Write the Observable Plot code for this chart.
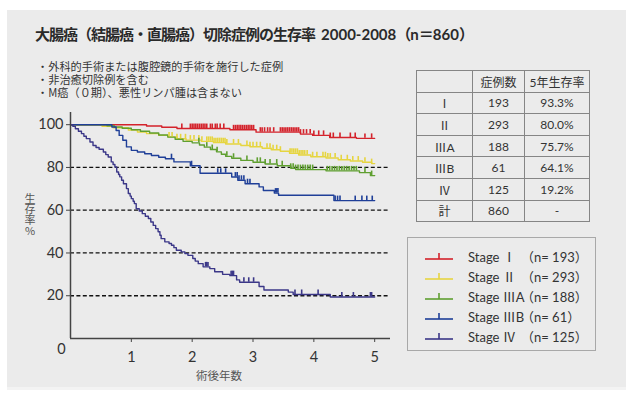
<!DOCTYPE html>
<html><head><meta charset="utf-8">
<script src="https://cdn.jsdelivr.net/npm/d3@7"></script>
<script src="https://cdn.jsdelivr.net/npm/@observablehq/plot@0.6"></script>
<style>
html,body{margin:0;padding:0;background:#fff;}
#root{position:relative;width:626px;height:399px;overflow:hidden;font-family:"Lato","Noto Sans CJK JP",sans-serif;color:#2a2a2a;}
#panel{position:absolute;left:7px;top:10px;width:619px;height:377px;background:#ebebeb;border-bottom:3px solid #f3f3f3;}
#title{position:absolute;left:35px;top:24px;font-size:15px;line-height:20px;font-weight:bold;white-space:nowrap;font-family:"Noto Sans CJK JP",sans-serif;letter-spacing:-1px;}
#title .lat{font-family:"Lato","Noto Sans CJK JP";font-weight:bold;font-size:15px;letter-spacing:0;}
#notes{position:absolute;left:37px;top:60px;font-size:11.2px;line-height:13px;font-family:"Noto Sans CJK JP",sans-serif;white-space:nowrap;color:#333;}
#tbl{position:absolute;left:416px;top:70px;border-collapse:collapse;font-size:12px;color:#333;}
#tbl td{border:1px solid #858585;height:20.6px;padding:0;text-align:center;font-family:"Lato","Noto Sans CJK JP",sans-serif;}
#legend{position:absolute;left:407px;top:237px;width:187px;height:112px;border:1px solid #a8a8a8;}
.lrow{position:absolute;left:0;height:16px;font-size:13px;color:#333;white-space:nowrap;}
.lrow svg{position:absolute;left:17px;top:2px;}
.lrow .s{position:absolute;left:60px;top:-1px;}
.lrow .n{position:absolute;left:113px;top:-1px;}
#ytitle{position:absolute;left:23px;top:193px;font-size:11px;line-height:14px;letter-spacing:-0.3px;writing-mode:vertical-rl;text-orientation:upright;color:#555;font-family:"Noto Sans CJK JP",sans-serif;}
#xtitle{position:absolute;left:196px;top:367px;font-size:11.5px;color:#555;font-family:"Noto Sans CJK JP",sans-serif;}
#chart{position:absolute;left:0;top:100px;}
</style></head>
<body>
<div id="root">
  <div id="panel"></div>
  <div id="title">大腸癌（結腸癌・直腸癌）切除症例の生存率 <span class="lat">&nbsp;2000-2008</span>（<span class="lat">n</span>＝<span class="lat">860</span>）</div>
  <div id="notes">・外科的手術または腹腔鏡的手術を施行した症例<br>・非治癒切除例を含む<br>・M癌（０期）、悪性リンパ腫は含まない</div>
  <table id="tbl"></table>
  <div id="legend"></div>
  <div id="ytitle">生存率%</div>
  <div id="xtitle">術後年数</div>
  <div id="chart"></div>
</div>
<script>
// ---- data ----
const stageNames = ["Stage Ⅰ", "Stage Ⅱ", "Stage ⅢA", "Stage ⅢB", "Stage Ⅳ"];
const stageN = ["193", "293", "188", "61", "125"];
const tableStages = ["Ⅰ", "Ⅱ", "ⅢA", "ⅢB", "Ⅳ", "計"];
const tableCases = ["193", "293", "188", "61", "125", "860"];
const tableRates = ["93.3%", "80.0%", "75.7%", "64.1%", "19.2%", "-"];
const tableHeader = ["", "症例数", "5年生存率"];
const xTicks = [1, 2, 3, 4, 5];
const yTicks = [20, 40, 60, 80, 100];
const gridLines = [20, 40, 60, 80];

const s1Time = [0, 1.25, 1.5, 1.75, 2.62, 3.05, 3.78, 3.98, 4.26, 4.7];
const s1Surv = [100, 99.4, 98.8, 98.2, 97.6, 96.5, 95.6, 95.0, 94.0, 93.6];
const s1Cens = [1.83, 1.97, 2.0, 2.03, 2.06, 2.09, 2.12, 2.15, 2.18, 2.21, 2.24, 2.3, 2.33, 2.38, 2.41, 2.46, 2.52,
  2.68, 2.71, 2.74, 2.77, 2.8, 2.83, 2.86, 2.89, 2.92, 2.95, 2.98, 3.01, 3.12, 3.15, 3.19, 3.24, 3.28, 3.34,
  3.45, 3.48, 3.51, 3.54, 3.57, 3.6, 3.63, 3.66, 3.69, 3.72, 3.75, 3.78, 3.83, 3.88, 3.94, 4.0, 4.08, 4.16,
  4.27, 4.32, 4.43, 4.6, 4.68, 4.84, 4.95];

const s2Time = [0, 0.52, 0.7, 0.95, 1.1, 1.25, 1.45, 1.6, 1.75, 1.9, 2.15, 2.35, 2.55, 2.8, 2.95, 3.15, 3.3, 3.45, 3.6, 3.75, 3.95, 4.2, 4.4, 4.6, 4.8, 4.95];
const s2Surv = [100, 99.2, 98.6, 97.5, 96.6, 95.8, 95.0, 94.3, 93.4, 92.8, 92.2, 91.6, 91.0, 90.3, 89.7, 89.0, 88.3, 87.6, 86.6, 85.8, 85.0, 84.4, 83.6, 83.0, 82.4, 81.8];
const s2Cens = [1.62, 1.67, 1.75, 1.81, 1.89, 1.97, 2.03, 2.11, 2.16, 2.24, 2.27, 2.3, 2.33, 2.36, 2.39, 2.42, 2.45, 2.48, 2.51, 2.54, 2.57,
  2.68, 2.76, 2.9, 2.95, 3.0, 3.06, 3.12, 3.23, 3.28, 3.33, 3.39, 3.45, 3.61, 3.64, 3.67, 3.7, 3.73, 3.76, 3.79, 3.82, 3.85, 3.89,
  3.98, 4.05, 4.15, 4.19, 4.23, 4.27, 4.35, 4.45, 4.55, 4.64, 4.73, 4.84, 4.95];

const s3Time = [0, 0.6, 0.72, 0.85, 1.0, 1.15, 1.3, 1.45, 1.6, 1.72, 1.85, 2.0, 2.12, 2.2, 2.3, 2.4, 2.48, 2.55, 2.65, 2.8, 3.0, 3.2, 3.4, 3.62, 3.7, 4.2, 4.75, 4.93];
const s3Surv = [100, 99.5, 98.9, 98.3, 97.6, 96.9, 96.1, 95.2, 94.2, 93.2, 92.2, 91.5, 90.5, 89.5, 88.4, 87.3, 86.2, 85.2, 84.3, 83.3, 82.4, 81.6, 80.8, 79.6, 79.0, 78.4, 77.6, 76.2];
const s3Cens = [2.11, 2.24, 2.33, 2.41, 2.57, 2.68, 2.9, 3.07, 3.12, 3.2, 3.28, 3.39, 3.48,
  3.62, 3.66, 3.7, 3.74, 3.78, 3.82, 3.86, 3.9, 3.94, 3.98, 4.22, 4.26, 4.3, 4.34, 4.38, 4.42, 4.46, 4.5, 4.54, 4.58,
  4.62, 4.66, 4.7, 4.84, 4.95];

const s4Time = [0, 0.68, 0.75, 0.8, 0.86, 0.92, 1.0, 1.1, 1.22, 1.33, 1.45, 1.56, 1.7, 1.97, 2.13, 2.65, 2.75, 2.87, 3.1, 3.17, 3.35, 3.42, 4.33];
const s4Surv = [100, 98.9, 97.3, 95.0, 92.7, 89.6, 88.0, 87.2, 86.4, 85.6, 84.8, 84.1, 82.6, 80.8, 77.3, 75.5, 74.0, 72.4, 70.9, 69.2, 68.0, 67.0, 64.5];
const s4Cens = [1.66, 1.99, 2.42, 2.47, 2.55, 2.71, 2.74, 2.77, 2.81, 2.85, 2.91, 2.95, 3.37, 3.39, 3.41, 4.35, 4.39, 4.43, 4.68, 4.79, 4.87, 4.96];

const s5Time = [0, 0.04, 0.08, 0.13, 0.18, 0.22, 0.26, 0.32, 0.37, 0.42, 0.47, 0.54, 0.58, 0.62, 0.67, 0.7, 0.73, 0.76, 0.79, 0.81, 0.84, 0.87, 0.92, 0.95, 0.98, 1.0, 1.03, 1.05, 1.08, 1.13, 1.18, 1.23, 1.28, 1.32, 1.36, 1.4, 1.44, 1.47, 1.49, 1.55, 1.62, 1.66, 1.7, 1.74, 1.82, 1.88, 1.93, 2.01, 2.05, 2.1, 2.18, 2.29, 2.37, 2.5, 2.62, 2.73, 2.78, 3.1, 3.18, 3.58, 3.66, 4.27];
const s5Surv = [100, 99.2, 98.1, 96.9, 95.8, 94.6, 93.5, 91.9, 90.3, 89.3, 88.5, 87.2, 86.0, 84.9, 82.6, 81.4, 80.2, 77.9, 76.7, 75.6, 74.0, 72.4, 70.1, 67.8, 66.6, 65.4, 64.2, 63.1, 60.7, 59.6, 58.4, 57.2, 56.1, 54.5, 52.9, 51.4, 49.9, 48.3, 46.7, 45.2, 44.4, 43.6, 42.5, 41.3, 40.5, 39.7, 38.9, 37.4, 36.2, 35.0, 33.5, 32.7, 31.2, 30.0, 29.4, 27.4, 26.3, 24.3, 22.7, 21.7, 20.6, 19.4];
const s5Cens = [2.22, 2.24, 2.26, 2.64, 2.66, 2.68, 2.85, 2.93, 3.01, 3.69, 3.8, 4.07, 4.46, 4.65, 4.93, 4.95];

// ---- styles ----
const colors = ["#d4222b", "#e6d540", "#5f9f30", "#1f3f98", "#3b3788"];

const series = [
  [s1Time, s1Surv, s1Cens], [s2Time, s2Surv, s2Cens], [s3Time, s3Surv, s3Cens],
  [s4Time, s4Surv, s4Cens], [s5Time, s5Surv, s5Cens]
];
const lines = [], cens = [];
series.forEach(([T, S, C], i) => {
  T.forEach((t, j) => lines.push({stage: stageNames[i], t, s: S[j]}));
  lines.push({stage: stageNames[i], t: 5, s: S[S.length - 1]});
  C.forEach(t => {
    let s = S[0];
    for (let j = 0; j < T.length; j++) if (T[j] <= t) s = S[j];
    cens.push({stage: stageNames[i], t, s});
  });
});

const color = {domain: stageNames, range: colors};
const plot = Plot.plot({
  width: 400, height: 290,
  marginLeft: 70, marginRight: 10, marginTop: 12, marginBottom: 52,
  x: {domain: [0, 5.26]},
  y: {domain: [0, 105.7]},
  color,
  style: {background: "transparent", fontFamily: "Lato, 'Noto Sans CJK JP', sans-serif", color: "#333", overflow: "visible"},
  marks: [
    Plot.ruleY(gridLines, {stroke: "#111", strokeWidth: 1.3, strokeDasharray: "4,2.4"}),
    Plot.axisX(xTicks, {tickSize: 4, tickPadding: 9, fontSize: 14.5, label: null, stroke: "#444", fill: "#333"}),
    Plot.axisY(yTicks, {tickSize: 4, tickPadding: 3, fontSize: 14.5, label: null, stroke: "#444", fill: "#333"}),
    Plot.text([0], {x: 0, y: 0, text: () => "0", dx: -9, dy: 11, fontSize: 14.5, fill: "#333"}),
    Plot.line(lines, {x: "t", y: "s", z: "stage", stroke: "stage", curve: "step-after", strokeWidth: 1.4}),
    Plot.ruleX(cens, {x: "t", y1: "s", y2: d => d.s + 2.1, stroke: "stage", strokeWidth: 1.6}),
    Plot.ruleX([0], {stroke: "#444", strokeWidth: 1.5}),
    Plot.ruleY([0], {stroke: "#444", strokeWidth: 1.5})
  ]
});
document.getElementById("chart").appendChild(plot);

// table
const tbl = document.getElementById("tbl");
const widths = [55, 51, 64];
const hdr = tbl.insertRow();
tableHeader.forEach((h, k) => { const c = hdr.insertCell(); c.textContent = h; c.style.width = widths[k] + "px"; });
tableStages.forEach((st, i) => {
  const r = tbl.insertRow();
  [st, tableCases[i], tableRates[i]].forEach(v => { const c = r.insertCell(); c.textContent = v; });
});

// legend
const lg = document.getElementById("legend");
stageNames.forEach((nm, i) => {
  const row = document.createElement("div");
  row.className = "lrow";
  row.style.top = (10 + i * 20) + "px";
  row.style.width = "100%";
  row.innerHTML = `<svg width="30" height="12"><line x1="0" x2="28" y1="9" y2="9" stroke="${colors[i]}" stroke-width="1.6"/><line x1="14" x2="14" y1="9" y2="3" stroke="${colors[i]}" stroke-width="1.6"/></svg><span class="s">${nm}</span><span class="n">（n= ${stageN[i]}）</span>`;
  lg.appendChild(row);
});
</script>
</body></html>
